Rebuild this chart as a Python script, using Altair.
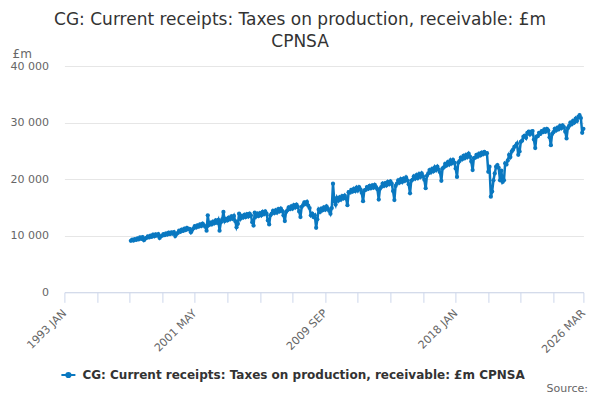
import altair as alt
import pandas as pd

SERIES = "CG: Current receipts: Taxes on production, receivable: £m CPNSA"
TITLE_LINES = ["CG: Current receipts: Taxes on production, receivable: £m", "CPNSA"]

# Monthly values, £m, one list per financial year (April .. March)
fy1997 = [9100, 9300, 9150, 9400, 9250, 9550, 9350, 9700, 9450, 9750, 9200, 9500]
fy1998 = [9600, 9900, 9700, 10000, 9800, 10200, 9900, 10250, 10000, 10300, 9600, 9900]
fy1999 = [10000, 10300, 10100, 10400, 10200, 10550, 10300, 10600, 10350, 10650, 9950, 10300]
fy2000 = [10500, 10900, 10700, 11100, 10850, 11250, 11000, 11400, 11100, 11200, 10600, 11000]
fy2001 = [11300, 11700, 11450, 11850, 11600, 12000, 11700, 12150, 11850, 11600, 10900, 13600]
fy2002 = [11900, 12300, 12000, 12500, 12200, 12700, 12300, 12800, 10900, 12400, 12900, 14200]
fy2003 = [12600, 13000, 12700, 13200, 12900, 13400, 13000, 13500, 12600, 11500, 12100, 13900]
fy2004 = [13000, 13500, 13200, 13700, 13300, 13800, 13400, 13900, 13600, 12400, 11800, 14100]
fy2005 = [13400, 13900, 13500, 14000, 13600, 14200, 13800, 14300, 13900, 12700, 12000, 13600]
fy2006 = [13900, 14400, 14000, 14500, 14100, 14700, 14300, 14800, 14400, 13600, 12600, 14200]
fy2007 = [14500, 15000, 14700, 15200, 14800, 15400, 15000, 15500, 15100, 14300, 13300, 15100]
fy2008 = [15400, 15900, 15600, 16000, 15300, 14900, 13600, 13900, 13300, 13600, 11400, 12900]
fy2009 = [14600, 14200, 14800, 14500, 15000, 14600, 15200, 14800, 14400, 13900, 14900, 19200]
fy2010 = [16100, 15500, 16700, 16200, 16800, 16400, 17000, 16600, 17100, 16600, 15400, 17700]
fy2011 = [17600, 18100, 17800, 18300, 17900, 18500, 18000, 18600, 18200, 17600, 16100, 18000]
fy2012 = [18100, 18600, 18300, 18800, 18400, 18900, 18500, 19000, 18600, 18200, 16400, 18300]
fy2013 = [18600, 19200, 18800, 19300, 18900, 19500, 19100, 19600, 19200, 17900, 16300, 18800]
fy2014 = [19200, 19800, 19400, 20000, 19500, 20100, 19700, 20300, 19800, 19100, 17500, 19700]
fy2015 = [19900, 20500, 20100, 20700, 20200, 20900, 20400, 21000, 20500, 19900, 18400, 20600]
fy2016 = [21000, 21600, 21200, 21800, 21400, 22100, 21600, 22200, 21700, 21200, 19700, 21900]
fy2017 = [22100, 22700, 22400, 23000, 22600, 23300, 22800, 23400, 22900, 21900, 20400, 22900]
fy2018 = [23200, 23800, 23500, 24100, 23700, 24300, 23900, 24500, 24000, 23100, 21600, 23700]
fy2019 = [23800, 24300, 24000, 24500, 24200, 24700, 24400, 24800, 24500, 24600, 21300, 22200]
fy2020 = [16900, 17800, 19800, 21000, 22200, 22500, 22000, 19800, 21500, 19500, 19800, 22800]
fy2021 = [22600, 23300, 24300, 23900, 24900, 25200, 25700, 25900, 26300, 24300, 24900, 26600]
fy2022 = [26800, 27500, 27700, 27300, 28200, 28400, 27900, 28400, 28500, 27000, 25500, 27500]
fy2023 = [27600, 28200, 28000, 28500, 28300, 28800, 28400, 28900, 28600, 27400, 26000, 28000]
fy2024 = [28300, 28900, 28600, 29100, 28800, 29400, 29000, 29500, 29200, 28400, 27200, 29000]
fy2025 = [29400, 30000, 29700, 30300, 30000, 30700, 30300, 31000, 31300, 30800, 28200, 28900]

years = [fy1997, fy1998, fy1999, fy2000, fy2001, fy2002, fy2003, fy2004, fy2005, fy2006,
         fy2007, fy2008, fy2009, fy2010, fy2011, fy2012, fy2013, fy2014, fy2015, fy2016,
         fy2017, fy2018, fy2019, fy2020, fy2021, fy2022, fy2023, fy2024, fy2025]
values = [v for yr in years for v in yr]
dates = pd.date_range("1997-04-01", periods=len(values), freq="MS").strftime("%Y-%m-%d")

# x-axis tick months (every 25 months from 1993 JAN, plus the last month)
tick_months = [(1993, 1), (1995, 2), (1997, 3), (1999, 4), (2001, 5), (2003, 6), (2005, 7),
               (2007, 8), (2009, 9), (2011, 10), (2013, 11), (2015, 12), (2018, 1), (2020, 2),
               (2022, 3), (2024, 4), (2026, 3)]
shown_labels = ["1993 JAN", "2001 MAY", "2009 SEP", "2018 JAN", "2026 MAR"]
y_ticks = [0, 10000, 20000, 30000, 40000]

df = pd.DataFrame({"date": dates, "value": values, "series": SERIES})

COLOR = "#0a78c0"
PLOT_L, PLOT_T = 56.4, 58
W, H = 519, 226.3

lbl = "upper(utcFormat(datum.value, '%Y %b'))"
label_list = "[" + ",".join("'" + s + "'" for s in shown_labels) + "]"

line = alt.Chart(df).mark_line(
    strokeWidth=2.5,
    point=alt.OverlayMarkDef(filled=True, size=18, color=COLOR),
).encode(
    x=alt.X(
        "date:T",
        scale=alt.Scale(type="utc", domain=[alt.DateTime(year=1993, month=1, date=1, utc=True),
                                            alt.DateTime(year=2026, month=3, date=1, utc=True)]),
        axis=alt.Axis(
            title=None,
            values=[alt.DateTime(year=y, month=m, date=1, utc=True) for y, m in tick_months],
            labelExpr=f"indexof({label_list}, {lbl}) >= 0 ? {lbl} : ''",
            grid=False,
            domainColor="#ccd6eb",
            tickColor="#ccd6eb",
            tickSize=10,
            labelAngle=-45,
            labelAlign="right",
            labelBaseline="middle",
            labelPadding=9,
            labelColor="#666666",
            labelFontSize=11,
            labelOverlap=False,
            labelBound=False,
            labelFlush=False,
        ),
    ),
    y=alt.Y(
        "value:Q",
        scale=alt.Scale(domain=[0, 40000], nice=False),
        axis=alt.Axis(
            values=y_ticks,
            labelExpr="replace(format(datum.value, ','), ',', ' ')",
            domain=False,
            ticks=False,
            tickSize=0,
            gridColor="#e6e6e6",
            labelColor="#666666",
            labelFontSize=11,
            labelPadding=16,
            title="£m",
            titleAngle=0,
            titleX=-52.4,
            titleY=-13,
            titleAlign="left",
            titleBaseline="middle",
            titleFontWeight="normal",
            titleFontSize=12,
            titleColor="#666666",
        ),
    ),
    color=alt.Color(
        "series:N",
        scale=alt.Scale(range=[COLOR]),
        legend=alt.Legend(
            title=None,
            orient="none",
            legendX=-4,
            legendY=301,
            symbolType="M-1,0H1M-0.3,0a0.3,0.3 0 1,0 0.6,0a0.3,0.3 0 1,0 -0.6,0",
            symbolSize=196,
            symbolStrokeWidth=2,
            symbolFillColor=COLOR,
            symbolStrokeColor=COLOR,
            labelFontSize=12,
            labelFontWeight="bold",
            labelColor="#333333",
            labelOffset=6,
            labelLimit=600,
        ),
    ),
)

source = alt.Chart(pd.DataFrame({"t": ["Source:"]})).mark_text(
    align="right", baseline="middle", fontSize=11, color="#666666"
).encode(text="t:N", x=alt.value(523.6), y=alt.value(323))

chart = alt.layer(line, source).properties(
    width=W,
    height=H,
    autosize=alt.AutoSizeParams(type="none"),
    padding={"left": PLOT_L, "top": PLOT_T, "right": 584 - PLOT_L - W, "bottom": 392 - PLOT_T - H},
    title=alt.TitleParams(
        text=TITLE_LINES,
        anchor="middle",
        dx=-23.85,
        dy=10,
        fontSize=17,
        fontWeight="normal",
        color="#333333",
        lineHeight=22,
        offset=6,
    ),
).configure(font="DejaVu Sans").configure_view(stroke=None)

chart.save("out.html", embed_options={"renderer": "svg", "actions": False})
